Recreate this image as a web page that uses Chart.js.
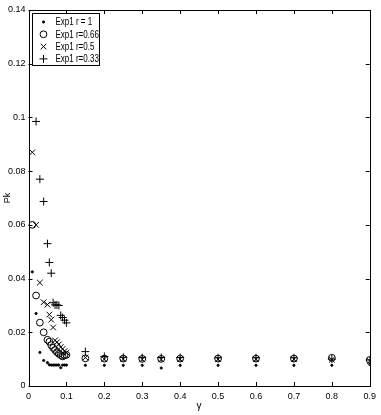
<!DOCTYPE html>
<html>
<head>
<meta charset="utf-8">
<script src="https://cdn.jsdelivr.net/npm/chart.js@4/dist/chart.umd.min.js"></script>
<style>
  html, body { margin: 0; padding: 0; background: #fff; }
  #wrap { width: 381px; height: 415px; }
</style>
</head>
<body>
<div id="wrap"><canvas id="pk-chart" width="381" height="415"></canvas></div>
<script>
// gamma values (x) shared by all series
const gamma = [0.01, 0.02, 0.03, 0.04, 0.05, 0.055, 0.06, 0.065, 0.07, 0.075, 0.08, 0.085, 0.09, 0.095, 0.1,
  0.15, 0.2, 0.25, 0.3, 0.35, 0.4, 0.5, 0.6, 0.7, 0.8, 0.9];

const pkR1 = [0.0425, 0.0270, 0.0125, 0.0095, 0.0087, 0.0079, 0.0078, 0.0078, 0.0078, 0.0078, 0.0078, 0.0068, 0.0078, 0.0078, 0.0078,
  0.0077, 0.0077, 0.0077, 0.0077, 0.0067, 0.0077, 0.0077, 0.0077, 0.0077, 0.0077, 0.0080];
const pkR066 = [0.0600, 0.0337, 0.0236, 0.0200, 0.0172, 0.0165, 0.0152, 0.0142, 0.0134, 0.0126, 0.0120, 0.0115, 0.0110, 0.0114, 0.0116,
  0.0103, 0.0102, 0.0102, 0.0101, 0.0101, 0.0102, 0.0102, 0.0102, 0.0102, 0.0105, 0.0097];
const pkR05 = [0.0870, 0.0600, 0.0385, 0.0312, 0.0303, 0.0266, 0.0247, 0.0218, 0.0170, 0.0163, 0.0155, 0.0145, 0.0138, 0.0130, 0.0125,
  0.0106, 0.0100, 0.0100, 0.0099, 0.0099, 0.0100, 0.0100, 0.0100, 0.0100, 0.0098, 0.0093];
const pkR033 = [null, 0.0985, 0.0770, 0.0687, 0.0530, 0.0460, 0.0420, 0.0310, 0.0302, 0.0302, 0.0300, 0.0263, 0.0255, 0.0245, 0.0235,
  0.0128, 0.0110, 0.0107, 0.0106, 0.0106, 0.0106, 0.0105, 0.0105, 0.0105, 0.0100, 0.0097];

const seriesLabels = ['Exp1 r = 1', 'Exp1 r=0.66', 'Exp1 r=0.5', 'Exp1 r=0.33'];
const xTicks = [0, 0.1, 0.2, 0.3, 0.4, 0.5, 0.6, 0.7, 0.8, 0.9];
const yTicks = [0, 0.02, 0.04, 0.06, 0.08, 0.1, 0.12, 0.14];

const FONT = "'Liberation Sans', Arial, sans-serif";

const toPoints = (ys) => gamma.map((g, i) => ({ x: g, y: ys[i] })).filter(p => p.y !== null);

// box round the plot and matlab style ticks pointing inwards
const frameTicks = {
  id: 'frameTicks',
  afterDraw(chart) {
    const { ctx, chartArea: a, scales } = chart;
    const len = 4;
    ctx.save();
    ctx.strokeStyle = '#000';
    ctx.lineWidth = 1;
    ctx.beginPath();
    xTicks.forEach(v => {
      const px = Math.round(scales.x.getPixelForValue(v)) + 0.5;
      ctx.moveTo(px, a.bottom); ctx.lineTo(px, a.bottom - len);
      ctx.moveTo(px, a.top); ctx.lineTo(px, a.top + len);
    });
    yTicks.forEach(v => {
      const py = Math.round(scales.y.getPixelForValue(v)) + 0.5;
      ctx.moveTo(a.left, py); ctx.lineTo(a.left + len, py);
      ctx.moveTo(a.right, py); ctx.lineTo(a.right - len, py);
    });
    ctx.stroke();
    ctx.strokeRect(Math.round(a.left) + 0.5, Math.round(a.top) + 0.5,
      Math.round(a.right - a.left), Math.round(a.bottom - a.top));
    ctx.restore();
  }
};

// legend box in the top left corner, inside the axes
const boxLegend = {
  id: 'boxLegend',
  afterDraw(chart) {
    const { ctx, chartArea: a } = chart;
    const x0 = Math.round(a.left) + 3.5, y0 = Math.round(a.top) + 3.5;
    const w = 67, h = 52, rowH = 12.3;
    ctx.save();
    ctx.fillStyle = '#fff';
    ctx.strokeStyle = '#000';
    ctx.lineWidth = 1;
    ctx.fillRect(x0, y0, w, h);
    ctx.strokeRect(x0, y0, w, h);
    ctx.font = '10px ' + FONT;
    ctx.textBaseline = 'middle';
    chart.data.datasets.forEach((ds, i) => {
      const cy = y0 + 8.5 + i * rowH;
      ctx.fillStyle = ds.backgroundColor;
      ctx.strokeStyle = ds.borderColor;
      Chart.helpers.drawPoint(ctx, {
        pointStyle: ds.pointStyle, radius: ds.pointRadius, rotation: 0, borderWidth: 1
      }, x0 + 11, cy);
      ctx.fillStyle = '#000';
      // squeeze the text a bit, the original font is a narrow one
      const tw = ctx.measureText(ds.label).width;
      ctx.fillText(ds.label, x0 + 23, cy + 0.5, tw * 0.8);
    });
    ctx.restore();
  }
};

new Chart(document.getElementById('pk-chart'), {
  type: 'scatter',
  data: {
    datasets: [
      { label: seriesLabels[0], data: toPoints(pkR1), pointStyle: 'circle', pointRadius: 1.1,
        backgroundColor: '#000', borderColor: '#000', borderWidth: 1 },
      { label: seriesLabels[1], data: toPoints(pkR066), pointStyle: 'circle', pointRadius: 3.4,
        backgroundColor: 'rgba(0,0,0,0)', borderColor: '#000', borderWidth: 1 },
      { label: seriesLabels[2], data: toPoints(pkR05), pointStyle: 'crossRot', pointRadius: 4,
        backgroundColor: '#000', borderColor: '#000', borderWidth: 1 },
      { label: seriesLabels[3], data: toPoints(pkR033), pointStyle: 'cross', pointRadius: 4,
        backgroundColor: '#000', borderColor: '#000', borderWidth: 1 }
    ]
  },
  options: {
    responsive: false,
    animation: false,
    events: [],
    layout: { padding: { top: 10, right: 7, left: 0, bottom: 0 } },
    plugins: { legend: { display: false }, tooltip: { enabled: false } },
    scales: {
      x: {
        type: 'linear', min: 0, max: 0.9,
        afterFit: (s) => { s.height = 29; },
        afterBuildTicks: (s) => { s.ticks = xTicks.map(v => ({ value: v })); },
        grid: { display: false, drawTicks: false },
        border: { display: false },
        ticks: { color: '#000', padding: 5, font: { family: FONT, size: 9 },
          callback: (v) => String(v) },
        title: { display: true, text: 'γ', color: '#000', padding: { top: 0, bottom: 3 },
          font: { family: FONT, size: 10 } }
      },
      y: {
        type: 'linear', min: 0, max: 0.14,
        afterFit: (s) => { s.width = 28.5; },
        afterBuildTicks: (s) => { s.ticks = yTicks.map(v => ({ value: v })); },
        grid: { display: false, drawTicks: false },
        border: { display: false },
        ticks: { color: '#000', padding: 3, font: { family: FONT, size: 9 },
          callback: (v) => String(v) },
        title: { display: true, text: 'Pk', color: '#000', padding: { top: 2, bottom: 0 },
          font: { family: FONT, size: 9 } }
      }
    }
  },
  plugins: [frameTicks, boxLegend]
});
</script>
</body>
</html>
